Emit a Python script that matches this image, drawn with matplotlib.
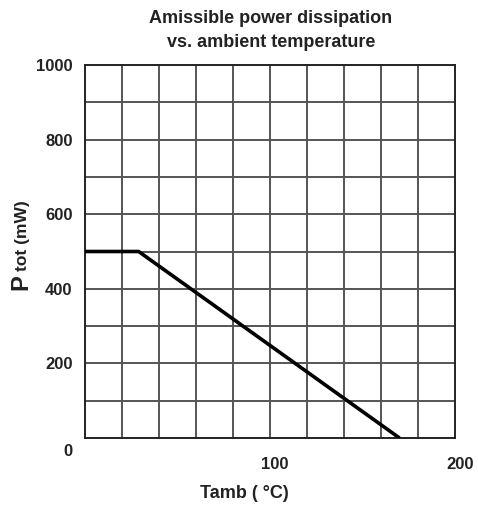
import matplotlib
matplotlib.use("Agg")
import matplotlib.pyplot as plt
import matplotlib.transforms as mtransforms

# Data
temp_c = [0, 29, 170]          # ambient temperature (°C)
power_mw = [500, 500, 0]       # admissible power dissipation (mW)
x_labels = [100, 200]
y_labels = [0, 200, 400, 600, 800, 1000]

plt.rcParams['font.family'] = ['Liberation Sans', 'DejaVu Sans']

W, H = 478, 509
fig = plt.figure(figsize=(W / 100, H / 100), dpi=100)
ax = fig.add_axes([85 / W, 1 - 438 / H, 370 / W, 373 / H])

ax.set_xlim(0, 200)
ax.set_ylim(0, 1000)

# grid
for gx in range(20, 200, 20):
    ax.axvline(gx, color='#555555', lw=1.4, zorder=1)
for gy in range(100, 1000, 100):
    ax.axhline(gy, color='#555555', lw=1.4, zorder=1)

ax.plot(temp_c, power_mw, color='black', lw=2.6, zorder=3, solid_capstyle='butt')

for s in ax.spines.values():
    s.set_linewidth(1.4)
    s.set_color('#222222')

ax.set_xticks(x_labels)
ax.set_xticklabels([str(v) for v in x_labels], fontsize=12, fontweight='bold', color='#222222')
ax.set_yticks(y_labels)
ax.set_yticklabels([str(v) for v in y_labels], fontsize=12, fontweight='bold', color='#222222')
ax.tick_params(axis='x', length=0, pad=14)
ax.tick_params(axis='y', length=0, pad=9)

# shift labels to mimic scan offsets
for lbl in ax.get_xticklabels():
    lbl.set_transform(lbl.get_transform() + mtransforms.ScaledTranslation(5 / 100, 0, fig.dpi_scale_trans))
ylbls = ax.get_yticklabels()
ylbls[0].set_transform(ylbls[0].get_transform() + mtransforms.ScaledTranslation(0, -12 / 100, fig.dpi_scale_trans))

# Title
fig.text(271 / W, 1 - 18.5 / H, 'Amissible power dissipation', ha='center', va='center',
         fontsize=13, fontweight='bold', color='#222222')
fig.text(271 / W, 1 - 42.5 / H, 'vs. ambient temperature', ha='center', va='center',
         fontsize=13, fontweight='bold', color='#222222')

# X label
fig.text(244 / W, 1 - 493 / H, 'Tamb ( °C)', ha='center', va='center',
         fontsize=13, fontweight='bold', color='#222222')

# Y label: big "P" then "tot (mW)"
fig.text(27 / W, 1 - 290 / H, 'P', rotation=90, rotation_mode='anchor', ha='left', va='baseline',
         fontsize=17, fontweight='bold', color='#222222')
fig.text(27 / W, 1 - 271 / H, 'tot (mW)', rotation=90, rotation_mode='anchor', ha='left', va='baseline',
         fontsize=12.5, fontweight='bold', color='#222222')

fig.savefig('out.png', dpi=100, facecolor='white')
